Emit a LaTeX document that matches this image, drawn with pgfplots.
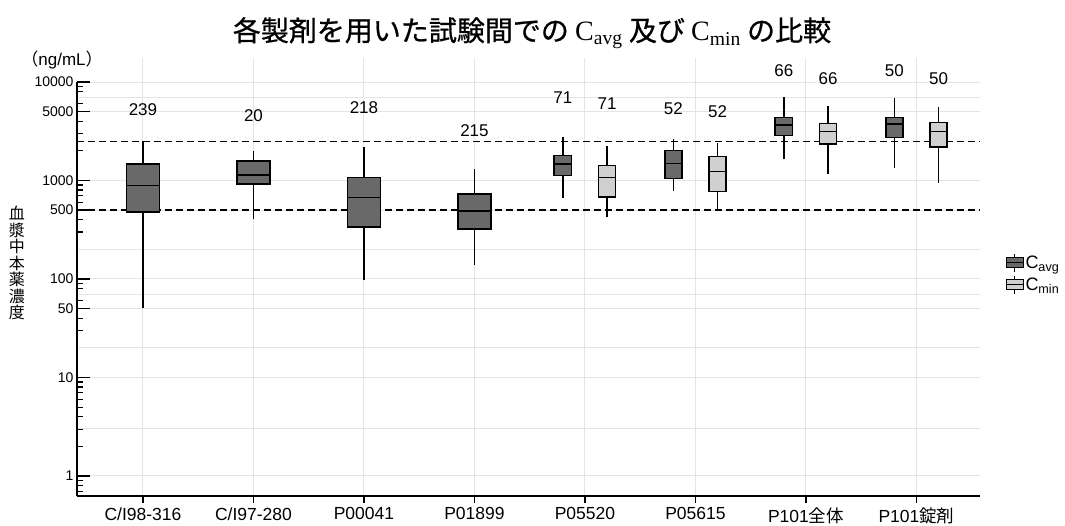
\documentclass[border=0pt]{standalone}
\usepackage{fontspec}
\setmainfont{Liberation Sans}
\newfontfamily\jp{Noto Sans CJK JP}
\newfontfamily\jpb[FakeBold=0.8]{Noto Sans CJK JP}
\newfontfamily\serifC{Liberation Serif}
\usepackage{pgfplots}
\pgfplotsset{compat=1.18}

\definecolor{cavg}{RGB}{105,105,105}
\definecolor{cmin}{RGB}{208,208,208}
\definecolor{gridc}{RGB}{228,228,228}

% one box: x, half width, fill, upper whisker, upper quartile, median, lower quartile, lower whisker
\newcommand\bx[8]{%
  \pgfmathsetmacro\xl{#1-#2}\pgfmathsetmacro\xr{#1+#2}%
  \addplot[black, line width=1.6pt, forget plot] coordinates {(#1,#8) (#1,#7)};
  \addplot[black, line width=1.6pt, forget plot] coordinates {(#1,#5) (#1,#4)};
  \addplot[black, line width=1.6pt, fill=#3, forget plot] coordinates {(\xl,#7) (\xr,#7) (\xr,#5) (\xl,#5)} -- cycle;
  \addplot[black, line width=1.6pt, forget plot] coordinates {(\xl,#6) (\xr,#6)};
}

\begin{document}
\begin{tikzpicture}
\useasboundingbox (0,0) rectangle (1065pt,525pt);

\node[font=\jpb\fontsize{28}{31}\selectfont] at (532pt,492pt)
  {各製剤を用いた試験間での {\serifC C\textsubscript{avg}} 及び {\serifC C\textsubscript{min}} の比較};
\node[font=\fontsize{17}{19}\selectfont] at (62pt,465pt) {{\jp （}ng/mL{\jp ）}};
\node[font=\jp\fontsize{16}{16.5}\selectfont, align=center] at (17pt,262pt)
  {血\\漿\\中\\本\\薬\\濃\\度};

\begin{axis}[
  at={(77pt,29pt)}, anchor=south west,
  scale only axis, width=903pt, height=438pt,
  ymode=log,
  xmin=-0.597, xmax=7.575,
  ymin=0.626, ymax=17530,
  axis x line*=bottom, axis y line*=left,
  x axis line style={line width=1.8pt, -},
  y axis line style={draw=none},
  xtick={0,1,...,7},
  xticklabels={C/I98-316, C/I97-280, P00041, P01899, P05520, P05615, P101{\jp 全体}, P101{\jp 錠剤}},
  xticklabel style={font=\fontsize{17.5}{19}\selectfont, yshift=-8pt},
  ytick={1,10,50,100,500,1000,5000,10000},
  yticklabels={1,10,50,100,500,1000,5000,10000},
  yticklabel style={font=\fontsize{14}{16}\selectfont},
  minor ytick={0.7,0.8,0.9,2,3,4,5,6,7,8,9,20,30,40,60,70,80,90,200,300,400,600,700,800,900,2000,3000,4000,6000,7000,8000,9000},
  tick align=inside,
  major tick length=13pt, minor tick length=6pt,
  tick style={black, line width=1.4pt},
  minor tick style={black, line width=1.1pt},
  xtick style={/pgfplots/major tick length=7pt, yshift=-7pt},
  grid=major,
  major grid style={gridc, line width=1pt},
  extra y ticks={3,20,70,200,7000},
  extra y tick labels={},
  extra y tick style={grid=major, major tick style={draw=none}},
  clip=false,
  legend style={at={(axis description cs:1.028,0.507)}, anchor=west, draw=none, fill=none,
    font=\fontsize{18}{20}\selectfont, row sep=3pt, inner sep=0pt,
    /tikz/every even column/.append style={column sep=3pt}},
  legend cell align=left,
]
\addlegendimage{legend image code/.code={
  \draw[black, line width=1pt] (8.5pt,5pt) -- (8.5pt,9pt);
  \draw[black, line width=1pt] (8.5pt,-5pt) -- (8.5pt,-9pt);
  \draw[black, fill=cavg, line width=1pt] (0pt,-5pt) rectangle (17pt,5pt);
  \draw[black, line width=1pt] (0pt,0pt) -- (17pt,0pt);}}
\addlegendentry{C\textsubscript{avg}}
\addlegendimage{legend image code/.code={
  \draw[black, line width=1pt] (8.5pt,5pt) -- (8.5pt,9pt);
  \draw[black, line width=1pt] (8.5pt,-5pt) -- (8.5pt,-9pt);
  \draw[black, fill=cmin, line width=1pt] (0pt,-5pt) rectangle (17pt,5pt);
  \draw[black, line width=1pt] (0pt,0pt) -- (17pt,0pt);}}
\addlegendentry{C\textsubscript{min}}

% reference levels
\addplot[black, line width=1.6pt, dash pattern=on 7pt off 4pt, forget plot]
  coordinates {(-0.597,500) (7.575,500)};
\addplot[black, line width=1.6pt, dash pattern=on 7pt off 4pt, forget plot]
  coordinates {(-0.597,2500) (7.575,2500)};

% single studies (Cavg)
\bx{0}{0.15}{cavg}{2500}{1470}{886}{482}{50.8}
\bx{1}{0.15}{cavg}{1995}{1577}{1137}{921}{404}
\bx{2}{0.15}{cavg}{2203}{1069}{669}{339}{98}
\bx{3}{0.15}{cavg}{1309}{730}{490}{322}{139}

% paired studies: Cavg / Cmin
\bx{3.8}{0.078}{cavg}{2786}{1800}{1470}{1119}{669}
\bx{4.2}{0.078}{cmin}{2239}{1426}{1077}{680}{429}
\bx{4.8}{0.078}{cavg}{2618}{2025}{1493}{1052}{788}
\bx{5.2}{0.078}{cmin}{2420}{1746}{1230}{770}{494}
\bx{5.8}{0.078}{cavg}{6985}{4378}{3652}{2871}{1641}
\bx{6.2}{0.078}{cmin}{5750}{3800}{3133}{2349}{1156}
\bx{6.8}{0.078}{cavg}{6920}{4378}{3748}{2742}{1330}
\bx{7.2}{0.078}{cmin}{5535}{3863}{3133}{2173}{950}

% y axis line up to 10000
\draw[black, line width=1.8pt] (axis cs:-0.597,0.626) -- (axis cs:-0.597,10000);

% number of subjects
\begin{scope}[every node/.style={font=\fontsize{17}{19}\selectfont}]
\node at (axis cs:0,5196) {239};
\node at (axis cs:1,4516) {20};
\node at (axis cs:2,5445) {218};
\node at (axis cs:3,3181) {215};
\node at (axis cs:3.8,6880) {71};
\node at (axis cs:4.2,5977) {71};
\node at (axis cs:4.8,5319) {52};
\node at (axis cs:5.2,4960) {52};
\node at (axis cs:5.8,12934) {66};
\node at (axis cs:6.2,10727) {66};
\node at (axis cs:6.8,12934) {50};
\node at (axis cs:7.2,10727) {50};
\end{scope}
\end{axis}
\end{tikzpicture}
\end{document}
